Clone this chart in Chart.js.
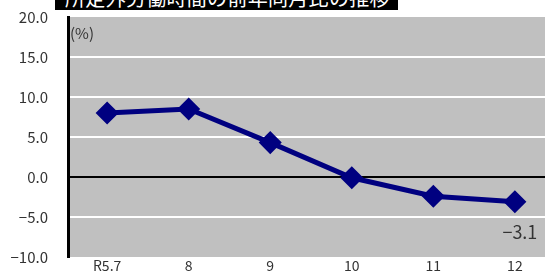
<!DOCTYPE html>
<html>
<head>
<meta charset="utf-8">
<script src="https://cdn.jsdelivr.net/npm/chart.js@4.4.0/dist/chart.umd.min.js"></script>
<style>
  html, body { margin: 0; padding: 0; background: #fff; overflow: hidden; }
  #wrap { position: relative; width: 545px; height: 272px; }
  #title {
    position: absolute; left: 55px; top: 0; width: 343px; height: 10px;
    background: #000; overflow: hidden; z-index: 2;
  }
  #title span {
    position: absolute; left: 10px; top: -12px; line-height: 20px;
    font-family: "Noto Sans CJK JP", sans-serif; font-size: 20px; color: #fff;
    white-space: nowrap; letter-spacing: 0.3px;
  }
</style>
</head>
<body>
<div id="wrap">
  <div id="title"><span>所定外労働時間の前年同月比の推移</span></div>
  <canvas id="chart" width="545" height="272"></canvas>
</div>
<script>
// 月（R5.7〜12）
const labels = ['R5.7', '8', '9', '10', '11', '12'];
// 前年同月比（%）
const values = [8.0, 8.5, 4.3, -0.1, -2.4, -3.1];
const yMin = -10;
const yMax = 20;
const yStep = 5;
// 右端は元の図で途中まで切れている
const xMin = -0.48;
const xMax = 5.21;

const font = '"Noto Sans CJK JP", sans-serif';
const minus = v => v < 0 ? '\u2212' + Math.abs(v).toFixed(1) : v.toFixed(1);

// グレーの背景（キャンバス右端まで）とラベル
const decor = {
  id: 'decor',
  beforeDraw(chart) {
    const { ctx, chartArea: a } = chart;
    ctx.save();
    ctx.fillStyle = '#c0c0c0';
    ctx.fillRect(a.left, a.top, chart.width - a.left, a.bottom - a.top);
    // 目盛線を右端まで延ばす
    const sy = chart.scales.y;
    ctx.lineWidth = 2;
    sy.ticks.forEach(t => {
      if (t.value === yMin || t.value === yMax) return;
      const y = Math.round(sy.getPixelForValue(t.value));
      ctx.strokeStyle = t.value === 0 ? '#000' : '#fff';
      ctx.beginPath();
      ctx.moveTo(a.right - 1, y);
      ctx.lineTo(chart.width, y);
      ctx.stroke();
    });
    ctx.restore();
  },
  afterDatasetsDraw(chart) {
    const { ctx, chartArea: a } = chart;
    const sx = chart.scales.x;
    ctx.save();
    ctx.fillStyle = '#333';
    ctx.font = '15px ' + font;
    ctx.textBaseline = 'middle';
    ctx.fillText('(%)', a.left + 2, a.top + 16);
    // 横軸の月ラベル
    ctx.font = '14px ' + font;
    ctx.textAlign = 'center';
    labels.forEach((l, i) => ctx.fillText(l, sx.getPixelForValue(i), a.bottom + 9));
    // 最終月の値
    const meta = chart.getDatasetMeta(0);
    const last = meta.data[meta.data.length - 1];
    ctx.font = '18px ' + font;
    ctx.fillText(minus(values[values.length - 1]), last.x + 5, last.y + 30);
    ctx.restore();
  }
};

new Chart(document.getElementById('chart'), {
  type: 'line',
  data: {
    datasets: [{
      data: values.map((v, i) => ({ x: i, y: v })),
      borderColor: '#000080',
      backgroundColor: '#000080',
      borderWidth: 5,
      pointStyle: 'rectRot',
      pointRadius: 8,
      pointHoverRadius: 8,
      tension: 0,
      clip: false
    }]
  },
  options: {
    responsive: false,
    animation: false,
    layout: { padding: { top: 17, left: 0, right: 0, bottom: 0 } },
    plugins: { legend: { display: false }, tooltip: { enabled: false } },
    scales: {
      x: {
        type: 'linear',
        min: xMin,
        max: xMax,
        grid: { display: false },
        border: { display: false },
        ticks: { display: false },
        afterFit(s) {
          s.height = 15;
          s.paddingLeft = 0; s.paddingRight = 0;
        }
      },
      y: {
        min: yMin,
        max: yMax,
        grid: {
          color: c => c.tick.value === 0 ? '#000' : (c.tick.value === yMin || c.tick.value === yMax ? 'rgba(0,0,0,0)' : '#fff'),
          lineWidth: 2,
          drawTicks: false
        },
        border: { color: '#000', width: 3 },
        ticks: {
          stepSize: yStep,
          color: '#333',
          padding: 20,
          font: { family: font, size: 15 },
          callback: v => minus(v)
        },
        afterFit(s) {
          s.width = 68;
          s.paddingTop = 0; s.paddingBottom = 0;
        }
      }
    }
  },
  plugins: [decor]
});
</script>
</body>
</html>
